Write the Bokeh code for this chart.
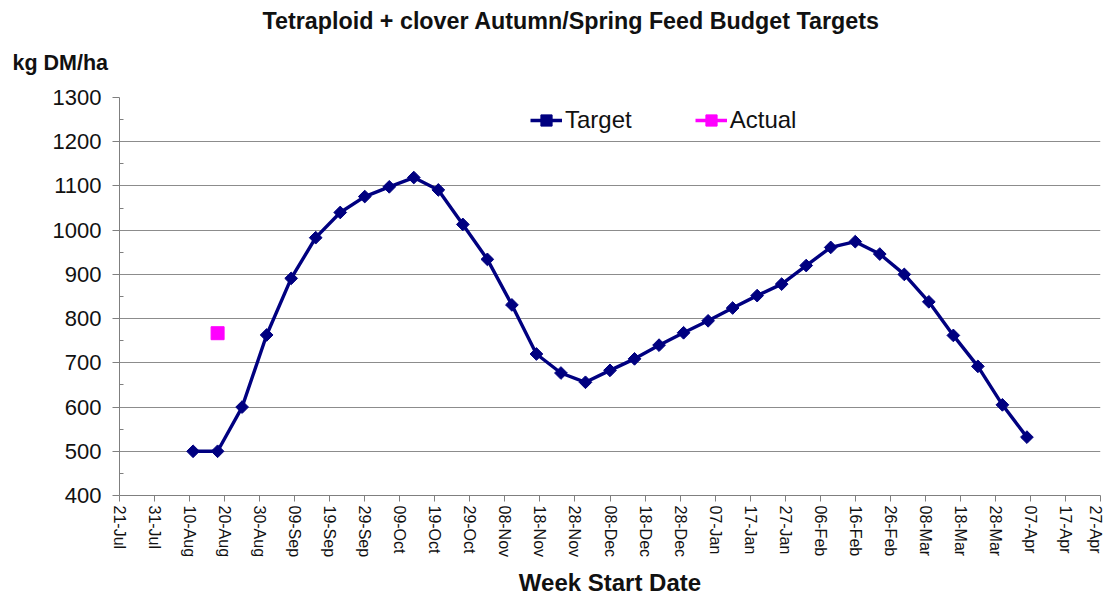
import numpy as np
import pandas as pd
from bokeh.plotting import figure
from bokeh.models import (Range1d, FixedTicker, DatetimeTickFormatter, Title,
                          Legend, LegendItem, ColumnDataSource)
from bokeh.embed import file_html
from bokeh.resources import INLINE

# ---------------- data ----------------
title_text = "Tetraploid + clover Autumn/Spring Feed Budget Targets"
y_title = "kg DM/ha"
x_title = "Week Start Date"

target_start = "2010-08-11"   # first weekly target date
target_values = [500, 500, 600, 763, 891, 983, 1040, 1076, 1098, 1119,
                 1091, 1013, 934, 831, 720, 677, 656, 683, 709, 740,
                 768, 795, 824, 852, 878, 920, 961, 974, 946, 900,
                 838, 762, 692, 605, 532]

actual_dates = ["2010-08-18"]
actual_values = [767]

tick_start = "2010-07-21"
tick_labels = ["21-Jul", "31-Jul", "10-Aug", "20-Aug", "30-Aug", "09-Sep",
               "19-Sep", "29-Sep", "09-Oct", "19-Oct", "29-Oct", "08-Nov",
               "18-Nov", "28-Nov", "08-Dec", "18-Dec", "28-Dec", "07-Jan",
               "17-Jan", "27-Jan", "06-Feb", "16-Feb", "26-Feb", "08-Mar",
               "18-Mar", "28-Mar", "07-Apr", "17-Apr", "27-Apr"]
y_ticks = [400, 500, 600, 700, 800, 900, 1000, 1100, 1200, 1300]

# ---------------- derived ----------------
target_dates = pd.date_range(target_start, periods=len(target_values), freq="7D")
tick_dates = pd.date_range(tick_start, periods=len(tick_labels), freq="10D")
tick_ms = [int(t.value // 10**6) for t in tick_dates]

src_t = ColumnDataSource(dict(x=target_dates, y=target_values))
src_a = ColumnDataSource(dict(x=pd.to_datetime(actual_dates), y=actual_values))

FONT = "Liberation Sans"
W, H = 1103, 599
ML, MR, MT, MB = 119, 3, 97, 104
FH = H - MT - MB

p = figure(width=W, height=H, x_axis_type="datetime",
           output_backend="svg", toolbar_location=None,
           x_range=Range1d(tick_ms[0], tick_ms[-1]),
           y_range=Range1d(y_ticks[0], y_ticks[-1]),
           min_border_left=ML, min_border_right=MR,
           min_border_top=MT, min_border_bottom=MB)
p.outline_line_color = None
p.background_fill_color = "white"
p.border_fill_color = "white"

# titles
p.title.text = title_text
p.title.align = "left"
p.title.offset = 143
p.title.vertical_align = "top"
p.title.text_font = FONT
p.title.text_font_style = "bold"
p.title.text_font_size = "23.3px"
p.title.text_color = "#111111"
try:
    p.title.standoff = -11
except Exception:
    p.title.standoff = 0

kg = Title(text=y_title, align="left", offset=-107, standoff=41,
           vertical_align="top",
           text_font=FONT, text_font_style="bold", text_font_size="21.5px",
           text_color="#111111")
p.add_layout(kg, "above")

# grid
p.xgrid.grid_line_color = None
p.ygrid.grid_line_color = "#8c8c8c"
p.ygrid.grid_line_width = 1.2

# x axis
xa = p.xaxis[0]
xa.ticker = FixedTicker(ticks=tick_ms)
xa.formatter = DatetimeTickFormatter(days="%d-%b", months="%d-%b", years="%d-%b",
                                     hours="%d-%b", minutes="%d-%b", seconds="%d-%b",
                                     milliseconds="%d-%b", minsec="%d-%b", hourmin="%d-%b")
xa.major_label_overrides = {ms: lab for ms, lab in zip(tick_ms, tick_labels)}
xa.major_label_orientation = "vertical"
xa.major_label_text_font = FONT
xa.major_label_text_font_size = "16px"
xa.major_label_text_color = "#111111"
xa.major_tick_in = 0
xa.major_tick_out = 6
xa.minor_tick_in = 0
xa.minor_tick_out = 0
xa.axis_line_color = "#7f7f7f"
xa.major_tick_line_color = "#7f7f7f"
xa.major_label_standoff = 4
xa.axis_label = x_title
xa.axis_label_text_font = FONT
xa.axis_label_text_font_style = "bold"
xa.axis_label_text_font_size = "24px"
xa.axis_label_text_color = "#111111"
xa.axis_label_standoff = 9

# y axis
ya = p.yaxis[0]
ya.ticker = FixedTicker(ticks=y_ticks,
                        minor_ticks=[v + 50 for v in y_ticks[:-1]])
ya.major_label_text_font = FONT
ya.major_label_text_font_size = "22px"
ya.major_label_text_color = "#111111"
ya.major_tick_in = 0
ya.major_tick_out = 7
ya.minor_tick_in = 4
ya.minor_tick_out = 0
ya.axis_line_color = "#7f7f7f"
ya.major_tick_line_color = "#7f7f7f"
ya.minor_tick_line_color = "#7f7f7f"
ya.major_label_standoff = 11

# series
NAVY = "#000080"
MAG = "#ff00ff"
l1 = p.line("x", "y", source=src_t, line_color=NAVY, line_width=3.4)
s1 = p.scatter("x", "y", source=src_t, marker="square", angle=np.pi / 4,
               size=9, fill_color=NAVY, line_color=NAVY)
l2 = p.line("x", "y", source=src_a, line_color=MAG, line_width=3.4)
s2 = p.scatter("x", "y", source=src_a, marker="square", size=13,
               fill_color=MAG, line_color=MAG)

legend = Legend(items=[LegendItem(label="Target", renderers=[l1, s1]),
                       LegendItem(label="Actual", renderers=[l2, s2])],
                orientation="horizontal", location=(411, FH - 37),
                padding=0, margin=0, spacing=63, label_standoff=3,
                glyph_width=32, glyph_height=28, label_height=28,
                label_text_font=FONT, label_text_font_size="24px",
                label_text_color="#111111",
                background_fill_alpha=0, border_line_color=None)
p.add_layout(legend)

open("out.html", "w").write(file_html(p, INLINE))
